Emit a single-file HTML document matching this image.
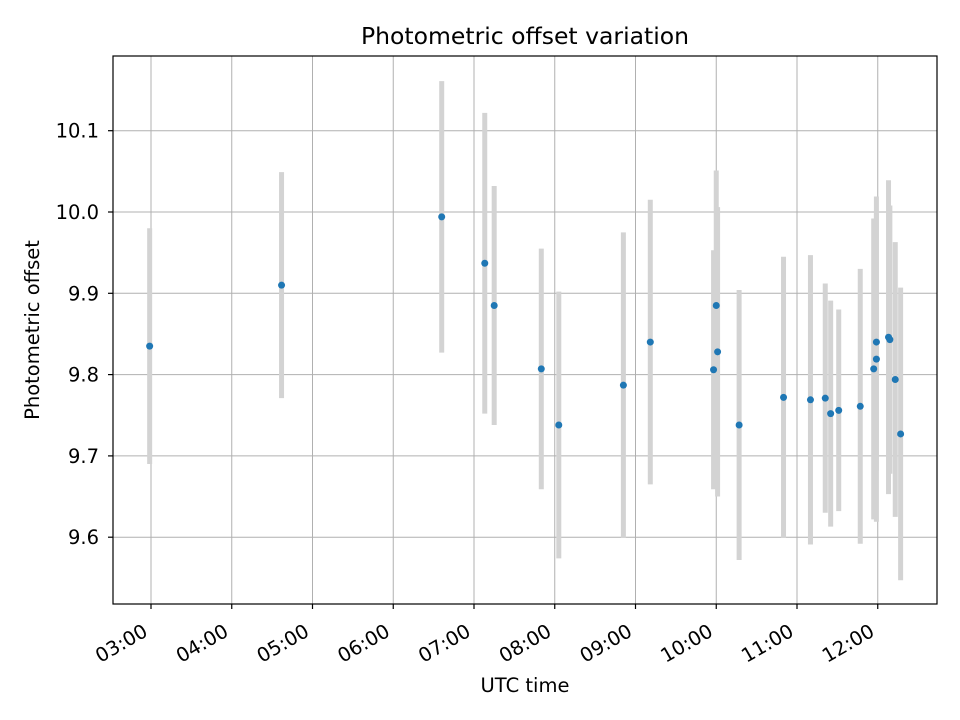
<!DOCTYPE html>
<html><head><meta charset="utf-8"><style>
html,body{margin:0;padding:0;background:#fff;}
svg{display:block;font-family:"DejaVu Sans","Liberation Sans",sans-serif;}
</style></head><body>
<svg id="chart" width="960" height="720" viewBox="0 0 960 720">
<rect width="960" height="720" fill="#fff"/>
<text x="525" y="44" text-anchor="middle" font-size="23.5" fill="#000">Photometric offset variation</text>
<g id="grid"></g><g id="bars"></g><g id="dots"></g><g id="axes"></g>
<text x="525" y="692" text-anchor="middle" font-size="19.5">UTC time</text>
<text transform="translate(39,330) rotate(-90)" text-anchor="middle" font-size="19.5">Photometric offset</text>
</svg>
<script>
// time in minutes after midnight UTC
const times = [179,277,396,428,435,470,483,531,551,598,600,601,617,650,670,681,685,691,707,717,719,719,728,729,733,737];
const offsets = [9.835,9.910,9.994,9.937,9.885,9.807,9.738,9.787,9.840,9.806,9.885,9.828,9.738,9.772,9.769,9.771,9.752,9.756,9.761,9.807,9.840,9.819,9.846,9.843,9.794,9.727];
const errors = [0.145,0.139,0.167,0.185,0.147,0.148,0.164,0.188,0.175,0.147,0.166,0.178,0.166,0.173,0.178,0.141,0.139,0.124,0.169,0.185,0.158,0.200,0.193,0.165,0.169,0.180];
const yTicks = [9.6,9.7,9.8,9.9,10.0,10.1];
const xTickLabels = ["03:00","04:00","05:00","06:00","07:00","08:00","09:00","10:00","11:00","12:00"];
const xTickMinutes = [180,240,300,360,420,480,540,600,660,720];

const L=113,R=937,T=56,B=604;
const xScale = m => 151 + (m-180)*(80.75/60);
const yScale = v => 212 - (v-10.0)*813;
const NS="http://www.w3.org/2000/svg";
function mk(tag,parent,attrs){const e=document.createElementNS(NS,tag);for(const k in attrs)e.setAttribute(k,attrs[k]);parent.appendChild(e);return e;}
const grid=document.getElementById('grid'),bars=document.getElementById('bars'),dots=document.getElementById('dots'),axes=document.getElementById('axes');

yTicks.forEach((v,i)=>{
  const y=yScale(v);
  const g=mk('line',grid,{x1:L,x2:R,y1:y,y2:y,stroke:'#b0b0b0','stroke-width':1});
  
  
  mk('line',axes,{x1:L-5,x2:L,y1:y,y2:y,stroke:'#000','stroke-width':1.2});
  const t=mk('text',axes,{x:L-14,y:y+7,'text-anchor':'end','font-size':19.5});
  t.textContent=v.toFixed(1);
  
  
});
xTickMinutes.forEach((m,i)=>{
  const x=xScale(m);
  const g=mk('line',grid,{x1:x,x2:x,y1:T,y2:B,stroke:'#b0b0b0','stroke-width':1});
  
  
  mk('line',axes,{x1:x,x2:x,y1:B,y2:B+5,stroke:'#000','stroke-width':1.2});
  const t=mk('text',axes,{transform:`translate(${x-2},${B+31}) rotate(-30)`,'text-anchor':'end','font-size':19.5});
  t.textContent=xTickLabels[i];
  
  
});
times.forEach((m,i)=>{
  const x=xScale(m);
  const b=mk('line',bars,{x1:x,x2:x,y1:yScale(offsets[i]+errors[i]),y2:yScale(offsets[i]-errors[i]),stroke:'#d3d3d3','stroke-width':5});
  
  
});
times.forEach((m,i)=>{
  const c=mk('circle',dots,{cx:xScale(m),cy:yScale(offsets[i]),r:3.5,fill:'#1f77b4'});
  
  
});
const f=mk('rect',axes,{x:L,y:T,width:R-L,height:B-T,fill:'none',stroke:'#000','stroke-width':1.2});


</script>
</body></html>
